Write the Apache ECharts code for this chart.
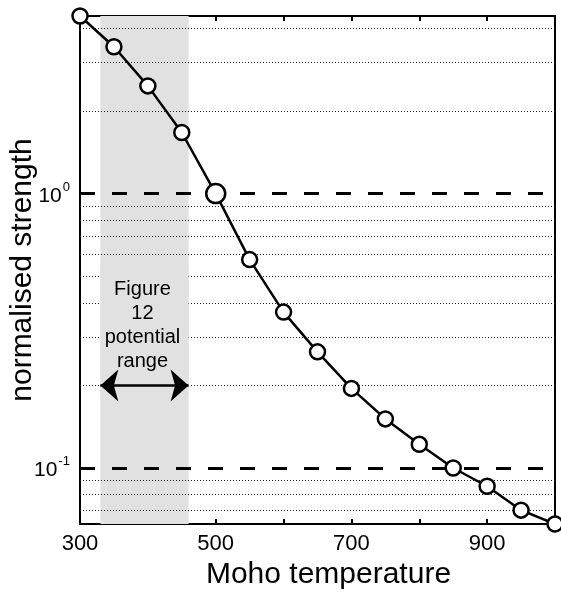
<!DOCTYPE html>
<html>
<head>
<meta charset="utf-8">
<script src="https://cdn.jsdelivr.net/npm/echarts@6/dist/echarts.min.js"></script>
<style>
  html, body { margin: 0; padding: 0; background: #fff; }
  #chart { width: 561px; height: 596px; }
</style>
</head>
<body>
<div id="chart"></div>
<script>
// Moho temperature vs normalised strength (log scale)
const temps = [300, 350, 400, 450, 500, 550, 600, 650, 700, 750, 800, 850, 900, 950, 1000];
const strength = [4.44, 3.43, 2.47, 1.67, 1.0, 0.575, 0.37, 0.265, 0.195, 0.151, 0.122, 0.1, 0.0858, 0.0702, 0.0625];
const xTicks = [300, 500, 700, 900];
const minorGrid = [4, 3, 2, 0.9, 0.8, 0.7, 0.6, 0.5, 0.4, 0.3, 0.2, 0.09, 0.08, 0.07];
const majorGrid = [1, 0.1];
const bandRange = [330, 460];
const boxRange = [0.55, 0.183];
const arrowLevel = 0.2;
const refTemp = 500;

const font = '"Liberation Sans", Arial, Helvetica, sans-serif';
const chart = echarts.init(document.getElementById('chart'), null, { renderer: 'canvas' });

const isPow10 = (v) => {
  const l = Math.log10(v);
  return Math.abs(l - Math.round(l)) < 1e-6;
};

const option = {
  animation: false,
  backgroundColor: '#fff',
  textStyle: { fontFamily: font },
  grid: {
    left: 80, right: 6, top: 16, bottom: 72,
    outerBoundsMode: 'none', containLabel: false,
    show: true, borderColor: '#000', borderWidth: 2
  },
  xAxis: [
    {
      type: 'value', min: 300, max: 1000, interval: 100,
      axisLine: { show: false },
      axisTick: { inside: true, length: 5, lineStyle: { color: '#000', width: 2 } },
      axisLabel: {
        color: '#000', fontSize: 22, fontFamily: font, margin: 9,
        formatter: (v) => (xTicks.includes(v) ? String(v) : '')
      },
      splitLine: { show: false },
      name: 'Moho temperature', nameLocation: 'middle', nameGap: 36, nameMoveOverlap: false,
      nameTextStyle: { color: '#000', fontSize: 30, fontFamily: font, padding: [0, 0, 0, 22] }
    },
    {
      type: 'value', min: 300, max: 1000, interval: 100, position: 'top',
      axisLine: { show: false },
      axisTick: { inside: true, length: 5, lineStyle: { color: '#000', width: 2 } },
      axisLabel: { show: false },
      splitLine: { show: false }
    }
  ],
  yAxis: {
    type: 'log', logBase: 10,
    min: strength[strength.length - 1], max: strength[0],
    axisLine: { show: false },
    axisTick: { show: false },
    splitLine: { show: false },
    axisLabel: {
      margin: 10, color: '#000', fontFamily: font,
      formatter: (v) => {
        if (!isPow10(v)) return '';
        return '{b|10}{s|' + Math.round(Math.log10(v)) + '}';
      },
      rich: {
        b: { fontSize: 21, color: '#000', fontFamily: font, lineHeight: 26, verticalAlign: 'bottom' },
        s: { fontSize: 13, color: '#000', fontFamily: font, lineHeight: 26, verticalAlign: 'top', padding: [0, 0, 11, 1] }
      }
    },
    name: 'normalised strength', nameLocation: 'middle', nameGap: 42, nameMoveOverlap: false,
    nameTextStyle: { color: '#000', fontSize: 30, fontFamily: font }
  },
  series: [
    {
      // shaded band, under the grid lines
      type: 'line', data: [], silent: true,
      markArea: {
        z: 1, silent: true,
        itemStyle: { color: '#e1e1e1' },
        data: [[{ xAxis: bandRange[0] }, { xAxis: bandRange[1] }]]
      }
    },
    {
      // dotted minor grid + dashed decade lines
      type: 'line', data: [], silent: true,
      markLine: {
        z: 2, silent: true, symbol: 'none',
        label: { show: false },
        data: minorGrid.map((v) => ({ yAxis: v, lineStyle: { color: '#222', width: 1, type: [1, 2] } }))
          .concat(majorGrid.map((v) => ({ yAxis: v, lineStyle: { color: '#000', width: 3, type: [15, 17] } })))
      }
    },
    {
      // label box covering the grid lines
      type: 'line', data: [], silent: true,
      markArea: {
        z: 3, silent: true,
        itemStyle: { color: '#e1e1e1' },
        label: {
          show: true, position: 'inside', color: '#000', fontSize: 20, lineHeight: 24,
          fontFamily: font, align: 'center', offset: [-2, -5],
          formatter: 'Figure\n12\npotential\nrange'
        },
        data: [[{ xAxis: bandRange[0], yAxis: boxRange[0] }, { xAxis: bandRange[1], yAxis: boxRange[1] }]]
      }
    },
    {
      // double-headed arrow
      type: 'line', data: [], silent: true,
      markLine: {
        z: 4, silent: true,
        symbol: ['arrow', 'arrow'], symbolSize: [24, 18],
        label: { show: false },
        lineStyle: { color: '#000', width: 2.5, type: 'solid' },
        data: [[{ coord: [bandRange[0], arrowLevel] }, { coord: [bandRange[1], arrowLevel] }]]
      }
    },
    {
      type: 'line', z: 10, clip: false,
      data: temps.map((t, i) => (t === refTemp
        ? { value: [t, strength[i]], symbolSize: 19 }
        : [t, strength[i]])),
      symbol: 'circle', symbolSize: 15, showAllSymbol: true,
      lineStyle: { color: '#000', width: 2.5 },
      itemStyle: { color: '#fff', borderColor: '#000', borderWidth: 2.5 }
    }
  ]
};

chart.setOption(option);
</script>
</body>
</html>
